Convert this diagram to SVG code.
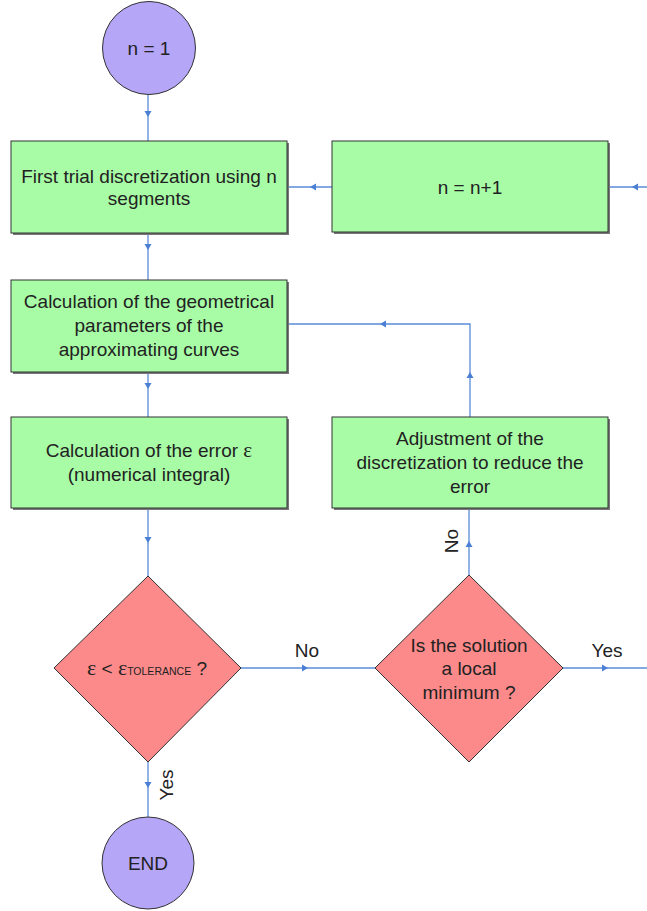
<svg xmlns="http://www.w3.org/2000/svg" width="647" height="911" viewBox="0 0 647 911">
<defs>
<style>
.box{fill:#a8fca6;stroke:#333;stroke-width:1}
.sh{fill:#777}
.dia{fill:#fd8a8a;stroke:#333;stroke-width:1}
.cir{fill:#b6a6f7;stroke:#333;stroke-width:1}
.ln{fill:none;stroke:#5b8bd8;stroke-width:1.3}
.ah{fill:#4a7fd4}
text{font-family:"Liberation Sans",Arial,sans-serif;font-size:19px;fill:#222;text-anchor:middle;dominant-baseline:central}
.eps{font-family:"Liberation Serif","Times New Roman",serif}
</style>
</defs>
<g id="connectors">
<path class="ln" d="M148,95 V141"/><path class="ah" d="M144.5,111 h7 l-3.5,6 z"/>
<path class="ln" d="M332,187 H287"/><path class="ah" d="M310,187 l6,-3.5 v7 z"/>
<path class="ln" d="M647,187 H608"/><path class="ah" d="M632,187 l6,-3.5 v7 z"/>
<path class="ln" d="M148,233 V280"/><path class="ah" d="M144.5,244 h7 l-3.5,6 z"/>
<path class="ln" d="M148,372 V417"/><path class="ah" d="M144.5,383 h7 l-3.5,6 z"/>
<path class="ln" d="M148,508 V576"/><path class="ah" d="M144.5,537 h7 l-3.5,6 z"/>
<path class="ln" d="M470,417 V324 H287"/><path class="ah" d="M470,372 l-3.5,6 h7 z"/><path class="ah" d="M380,324 l6,-3.5 v7 z"/>
<path class="ln" d="M241,668 H375"/><path class="ah" d="M308,668 l-6,-3.5 v7 z"/>
<path class="ln" d="M469,575 V508"/><path class="ah" d="M469,541 l-3.5,6 h7 z"/>
<path class="ln" d="M563,668 H647"/><path class="ah" d="M608,668 l-6,-3.5 v7 z"/>
<path class="ln" d="M148,762 V817"/><path class="ah" d="M144.5,782 h7 l-3.5,6 z"/>
<text x="307" y="650">No</text>
<text x="607" y="650">Yes</text>
<text transform="translate(451,541) rotate(-90)">No</text>
<text transform="translate(166,785) rotate(-90)">Yes</text>
</g>
<g id="start"><circle class="cir" cx="149" cy="48" r="46.5"/><text x="149" y="48">n = 1</text></g>
<g id="box1"><rect class="sh" x="13" y="143" width="276" height="92"/><rect class="box" x="11" y="141" width="276" height="92"/><text x="149" y="176">First trial discretization using n</text><text x="149" y="198">segments</text></g>
<g id="box2"><rect class="sh" x="334" y="143" width="276" height="91"/><rect class="box" x="332" y="141" width="276" height="91"/><text x="470" y="187">n = n+1</text></g>
<g id="box3"><rect class="sh" x="13" y="282" width="276" height="92"/><rect class="box" x="11" y="280" width="276" height="92"/><text x="149" y="301">Calculation of the geometrical</text><text x="149" y="325">parameters of the</text><text x="149" y="349">approximating curves</text></g>
<g id="box4"><rect class="sh" x="13" y="419" width="276" height="91"/><rect class="box" x="11" y="417" width="276" height="91"/><text x="149" y="450">Calculation of the error <tspan class="eps" font-size="21">ε</tspan></text><text x="149" y="474">(numerical integral)</text></g>
<g id="box5"><rect class="sh" x="334" y="419" width="276" height="91"/><rect class="box" x="332" y="417" width="276" height="91"/><text x="470" y="438">Adjustment of the</text><text x="470" y="462">discretization to reduce the</text><text x="470" y="486">error</text></g>
<g id="dec1"><path class="dia" d="M148,576 L241,668 L148,762 L54,668 Z"/><text x="147" y="675" style="dominant-baseline:auto"><tspan class="eps" font-size="22">ε</tspan> &lt; <tspan class="eps" font-size="22">ε</tspan><tspan font-size="10.5">TOLERANCE</tspan> ?</text></g>
<g id="dec2"><path class="dia" d="M469,575 L563,668 L469,762 L375,668 Z"/><text x="469" y="645">Is the solution</text><text x="469" y="668">a local</text><text x="469" y="692">minimum ?</text></g>
<g id="end"><circle class="cir" cx="148" cy="863" r="46"/><text x="148" y="863">END</text></g>
</svg>
